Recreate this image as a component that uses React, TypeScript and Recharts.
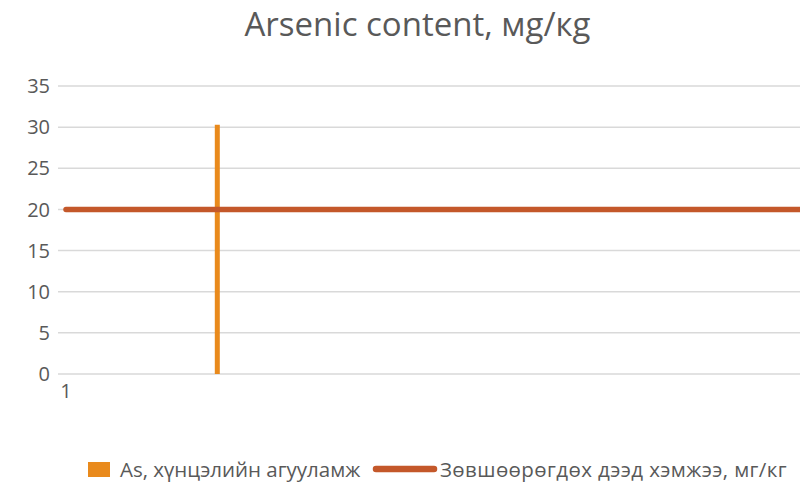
import React from "react";
import { ComposedChart, Bar, Line, XAxis, YAxis, CartesianGrid, Legend } from "recharts";

const xPositions = [1, 2, 6];
const arsenicValues: (number | null)[] = [null, 30.3, null];
const limitValues = [20, 20, 20];
const yTicks = [0, 5, 10, 15, 20, 25, 30, 35];
const xTicks = [1];
const titleText = "Arsenic content, мg/кg";
const arsenicName = "As, хүнцэлийн агууламж";
const limitName = "Зөвшөөрөгдөх дээд хэмжээ, мг/кг";

const data = xPositions.map((x, i) => ({ x, as: arsenicValues[i], limit: limitValues[i] }));

const FONT = "'Open Sans', 'Noto Sans', sans-serif";
const BAR_COLOR = "#E98A1C";
const LINE_COLOR = "#C4582A";

const LegendContent = (props: any) => {
  const payload = props.payload || [];
  return (
    <div style={{ display: "flex", alignItems: "center", height: 28, fontFamily: FONT, fontSize: 20.5, lineHeight: "28px", color: "#595959", whiteSpace: "nowrap" }}>
      {payload.map((p: any, i: number) => (
        <div key={i} style={{ display: "flex", alignItems: "center", width: i === 0 ? 284 : "auto", flexShrink: 0 }}>
          {p.type === "line" ? (
            <svg width={66} height={10} style={{ marginRight: 2, display: "block" }}>
              <line x1={4} y1={5} x2={62} y2={5} stroke={p.color} strokeWidth={6.5} strokeLinecap="round" />
            </svg>
          ) : (
            <svg width={22} height={15} style={{ marginRight: 10, display: "block" }}>
              <rect x={0} y={0} width={22} height={15} fill={p.color} />
            </svg>
          )}
          <span style={{ letterSpacing: p.type === "line" ? 0.4 : 0 }}>{p.value}</span>
        </div>
      ))}
    </div>
  );
};

export default function App() {
  return (
    <div style={{ position: "relative", width: 808, height: 476, background: "#fff" }}>
      <style>{"html, body { overflow: hidden; }"}</style>
      <div
        style={{
          position: "absolute",
          top: -7,
          left: 0,
          width: 819,
          textAlign: "center",
          fontFamily: FONT,
          fontSize: 33,
          color: "#595959",
          lineHeight: "45px",
          whiteSpace: "nowrap",
        }}
      >
        {titleText}
      </div>
      <ComposedChart
        width={816}
        height={476}
        data={data}
        margin={{ top: 78, right: 0, bottom: 80, left: 0 }}
      >
        <CartesianGrid vertical={false} stroke="#D9D9D9" strokeWidth={1.5} />
        <XAxis
          dataKey="x"
          type="number"
          domain={[1, 6]}
          ticks={xTicks}
          padding={{ left: 8, right: 0 }}
          axisLine={false}
          tickLine={false}
          tickMargin={4}
          height={30}
          tick={{ fill: "#595959", fontSize: 20, fontFamily: FONT }}
        />
        <YAxis
          type="number"
          domain={[0, 35]}
          ticks={yTicks}
          width={50}
          axisLine={false}
          tickLine={false}
          tickMargin={2}
          interval={0}
          tick={{ fill: "#595959", fontSize: 20, fontFamily: FONT }}
        />
        <Legend
          verticalAlign="middle"
          layout="horizontal"
          wrapperStyle={{ top: 447, left: 80, width: 736 }}
          content={<LegendContent />}
        />
        <Bar dataKey="as" name={arsenicName} fill={BAR_COLOR} barSize={5} isAnimationActive={false} legendType="square" />
        <Line
          dataKey="limit"
          name={limitName}
          stroke={LINE_COLOR}
          strokeWidth={5.5}
          strokeLinecap="round"
          dot={false}
          activeDot={false}
          isAnimationActive={false}
          legendType="line"
        />
      </ComposedChart>
    </div>
  );
}
